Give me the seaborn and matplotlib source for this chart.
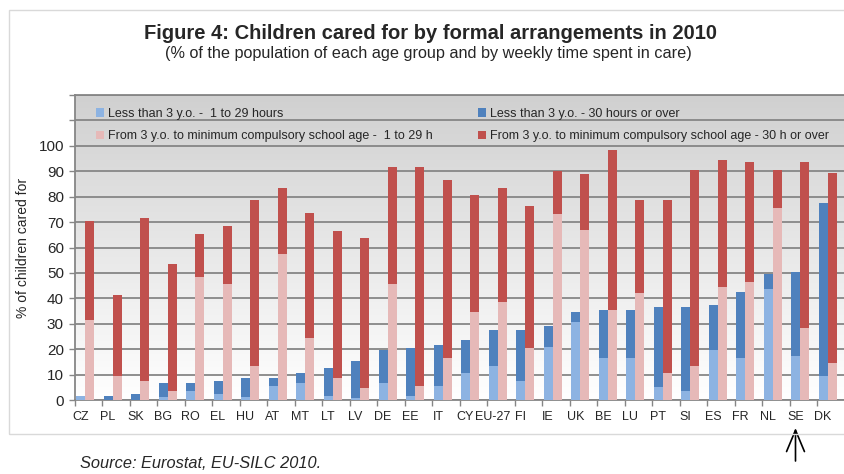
import numpy as np
import pandas as pd
import matplotlib
matplotlib.use("Agg")
import matplotlib.pyplot as plt
from matplotlib.patches import Patch, Rectangle
from matplotlib.colors import LinearSegmentedColormap
import seaborn as sns

# data (% of children, per age group and weekly hours)
countries = ["CZ", "PL", "SK", "BG", "RO", "EL", "HU", "AT", "MT", "LT", "LV", "DE", "EE", "IT",
             "CY", "EU-27", "FI", "IE", "UK", "BE", "LU", "PT", "SI", "ES", "FR", "NL", "SE", "DK"]
u3_short = [1.5, 0, 0, 1, 3.5, 2.5, 1, 5.5, 6.5, 1.5, 0.8, 6.5, 1.5, 5.5,
            10.5, 13.5, 7.5, 21, 30.5, 16.5, 16.5, 5, 3.5, 19.5, 16.5, 43.5, 17.5, 9.5]
u3_long = [0, 1.5, 2.5, 5.5, 3, 5, 7.5, 3, 4, 11, 14.7, 13, 19, 16,
           13, 14, 20, 8, 4, 19, 19, 31.5, 33, 18, 26, 6, 33, 68]
o3_short = [31.5, 9.5, 7.5, 3.5, 48.5, 45.5, 13.5, 57.5, 24.5, 8.5, 4.6, 45.5, 5.5, 16.5,
            34.5, 38.5, 20.5, 73, 67, 35.5, 42, 10.5, 13.5, 44.5, 46.5, 75.5, 28.5, 14.5]
o3_long = [39, 32, 64, 50, 17, 23, 65, 26, 49, 58, 59, 46, 86, 70,
           46, 45, 56, 17, 22, 63, 36.5, 68, 77, 50, 47, 15, 65, 75]

labels = ["Less than 3 y.o. -  1 to 29 hours",
          "From 3 y.o. to minimum compulsory school age -  1 to 29 h",
          "Less than 3 y.o. - 30 hours or over",
          "From 3 y.o. to minimum compulsory school age - 30 h or over"]
light_blue, dark_blue = "#8db3e2", "#4f81bd"
pink, dark_red = "#e6b9b8", "#c0504d"

sns.set_theme(style="white")
plt.rcParams["font.family"] = ["Liberation Sans", "DejaVu Sans"]

# long format: one row per country and age group
df = pd.DataFrame({
    "country": countries * 2,
    "group": ["u3"] * len(countries) + ["o3"] * len(countries),
    "short": u3_short + o3_short,
    "total": list(np.add(u3_short, u3_long)) + list(np.add(o3_short, o3_long)),
})

fig = plt.figure(figsize=(8.45, 4.74), dpi=100)
ax = fig.add_axes([75 / 845, 1 - 400 / 474, 770 / 845, 305 / 474])

n = len(countries)
x0, x1 = -0.37, n - 0.37

# grey to white gradient behind the bars
grad = np.linspace(0, 1, 256).reshape(-1, 1)
cmap = LinearSegmentedColormap.from_list("bg", ["#ffffff", "#d0d0d0"])
ax.imshow(grad, extent=[x0, x1 - 0.05, 0, 120], origin="lower", aspect="auto", cmap=cmap, zorder=0)

# full stack first (dark), then the 1-29h part on top (light)
sns.barplot(data=df, x="country", y="total", hue="group", order=countries, hue_order=["u3", "o3"],
            palette={"u3": dark_blue, "o3": dark_red}, width=0.66, saturation=1, errorbar=None,
            linewidth=0, legend=False, ax=ax, zorder=3)
sns.barplot(data=df, x="country", y="short", hue="group", order=countries, hue_order=["u3", "o3"],
            palette={"u3": light_blue, "o3": pink}, width=0.66, saturation=1, errorbar=None,
            linewidth=0, legend=False, ax=ax, zorder=3)

ax.set_xlim(x0, x1)
ax.set_ylim(0, 120)
ax.set_yticks(range(0, 130, 10))
ax.set_yticklabels([str(v) if v <= 100 else "" for v in range(0, 130, 10)], fontsize=11)
ax.grid(axis="y", color="#868686", lw=1.3, zorder=1)
ax.set_axisbelow(True)
ax.set_xticks(np.arange(n) - 0.17)
ax.set_xticklabels(countries, fontsize=9)
ax.set_xticks(np.arange(n + 1) - 0.37, minor=True)
ax.tick_params(axis="x", which="major", length=0, pad=8)
ax.tick_params(axis="x", which="minor", length=4, width=1, color="#868686", direction="out", bottom=True)
ax.tick_params(axis="y", length=4, width=1, color="#868686", direction="out", left=True, pad=4)
ax.set_xlabel("")
ax.set_ylabel("% of children cared for", fontsize=10, labelpad=6)
for side in ["left", "bottom", "top"]:
    ax.spines[side].set_color("#868686")
    ax.spines[side].set_linewidth(1.3)
ax.spines["right"].set_visible(False)

handles = [Patch(facecolor=c, edgecolor="none") for c in [light_blue, pink, dark_blue, dark_red]]
ax.legend(handles, labels, ncol=2, loc="upper left", bbox_to_anchor=(0.013, 0.993), frameon=False,
          fontsize=9, handlelength=0.65, handleheight=0.65, handletextpad=0.35,
          labelspacing=0.85, columnspacing=3.6, borderaxespad=0.45)

fig.text(0.509, 0.930, "Figure 4: Children cared for by formal arrangements in 2010",
         ha="center", va="center", fontsize=14.5, fontweight="bold")
fig.text(0.507, 0.888, "(% of the population of each age group and by weekly time spent in care)",
         ha="center", va="center", fontsize=11.7)
fig.text(80 / 845, 1 - 463 / 474, "Source: Eurostat, EU-SILC 2010.", ha="left", va="center",
         fontsize=11.8, style="italic")

# light chart frame
fig.add_artist(Rectangle((9 / 845, 1 - 434 / 474), 1.0, 424 / 474, transform=fig.transFigure,
                         fill=False, edgecolor="#d9d9d9", lw=1))

# arrow pointing at SE
se = countries.index("SE") - 0.17
ax.annotate("", xy=(se, 1 - 428 / 474), xytext=(se, 1 - 461 / 474),
            xycoords=("data", "figure fraction"), textcoords=("data", "figure fraction"),
            arrowprops=dict(arrowstyle="->, head_length=0.55, head_width=0.23", shrinkA=0, shrinkB=0,
                            color="black", lw=1.2, mutation_scale=28))

fig.savefig("out.png", dpi=100)
